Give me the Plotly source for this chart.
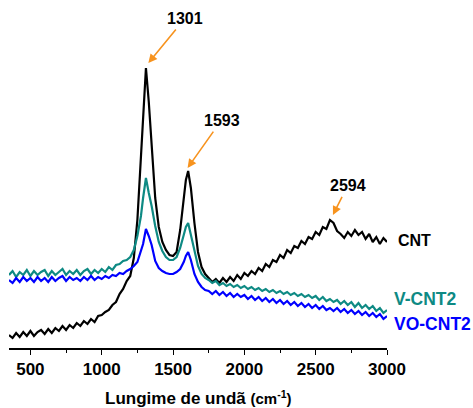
import plotly.graph_objects as go

# Raman shift sample positions (cm^-1)
X = list(range(350, 1276, 25)) + [1290, 1310, 1330, 1350, 1375, 1400, 1425, 1450, 1475,
                                  1500, 1525, 1550, 1575, 1590, 1606, 1625] + list(range(1650, 3001, 25))

CNT = ([13, 10, 15, 11, 16, 12, 17, 12, 16, 18,
        14, 19, 15, 20, 17, 22, 18, 23, 20, 25, 22, 27, 24, 29, 26, 32,
        33, 36, 38, 43, 46, 54, 59, 67, 72, 90, 128, 190] +
       [240, 280, 246, 200, 150, 121, 106, 98, 93, 92, 96, 118, 150, 168, 177, 160] +
       [125, 96, 81, 74, 70, 66, 69, 65, 70, 66, 71, 67, 73, 69,
        75, 72, 77, 74, 80, 77, 84, 81, 88, 86, 93, 90, 98, 95, 102, 100, 107, 104, 111, 109, 116, 113, 121, 119,
        128,
        125, 117, 114, 110, 116, 112, 118, 113, 116, 109, 114, 106, 111, 104, 110, 106])

V_CNT2 = ([73, 77, 71, 76, 73, 78, 72, 77, 73, 76,
           78, 72, 77, 73, 76, 79, 73, 77, 74, 78, 73, 77, 79, 74, 78, 75,
           79, 76, 81, 78, 83, 84, 87, 88, 91, 98, 112, 132] +
          [150, 170, 155, 142, 122, 106, 97, 91, 88, 88, 91, 100, 113, 121, 125, 113] +
          [96, 82, 74, 70, 68, 65, 67, 63, 65, 62, 64, 61, 63, 60,
           62, 59, 61, 58, 60, 57, 59, 56, 58, 55, 57, 54, 56, 53, 55, 52, 54, 51, 53, 50, 52, 48, 51, 47,
           49,
           46, 48, 44, 47, 43, 46, 41, 45, 40, 43, 39, 42, 37, 40, 35, 38])

VO_CNT2 = ([68, 65, 70, 66, 71, 67, 70, 66, 71, 67,
            70, 66, 71, 67, 70, 72, 67, 71, 68, 70, 67, 71, 68, 72, 68, 71,
            69, 72, 70, 73, 72, 75, 74, 77, 79, 82, 86, 96] +
           [104, 119, 112, 103, 87, 80, 77, 75, 74, 74, 76, 79, 86, 92, 96, 88] +
           [74, 66, 61, 58, 57, 54, 57, 53, 56, 52, 55, 51, 54, 51,
            53, 49, 52, 48, 51, 47, 50, 46, 49, 45, 48, 44, 47, 43, 46, 42, 45, 41, 44, 40, 43, 39, 42, 38,
            40,
            37, 40, 36, 39, 35, 38, 34, 37, 33, 36, 32, 35, 31, 34, 29, 32])

SERIES_NAMES = ["CNT", "V-CNT2", "VO-CNT2"]
COLORS = ["#000000", "#0E8A84", "#0000FF"]
TICKS = [500, 1000, 1500, 2000, 2500, 3000]

PEAK_LABELS = ["1301", "1593", "2594"]
PEAK_X = [1327, 1602, 2621]
PEAK_Y = [285, 180, 133]
PEAK_AX = [37, 34, 15]
PEAK_AY = [-45, -48, -30]

FONT = "Liberation Sans, Arial, sans-serif"
ORANGE = "#F7931E"

fig = go.Figure()
for name, ys, col in zip(SERIES_NAMES, [CNT, V_CNT2, VO_CNT2], COLORS):
    fig.add_trace(go.Scatter(x=X, y=ys, mode="lines", name=name,
                             line=dict(color=col, width=2.2)))

for lab, px, py, ax, ay in zip(PEAK_LABELS, PEAK_X, PEAK_Y, PEAK_AX, PEAK_AY):
    fig.add_annotation(x=px, y=py, xref="x", yref="y", text=lab, showarrow=True,
                       ax=ax, ay=ay, arrowhead=2, arrowsize=1.1, arrowwidth=1.6,
                       arrowcolor=ORANGE, standoff=0, startstandoff=2,
                       font=dict(family=FONT, size=16, color="black", weight="bold"))

# series labels on the right (paper x so they are not hidden outside the x range)
fig.add_annotation(x=1.0238, y=108, xref="paper", yref="y", text="CNT", showarrow=False,
                   xanchor="left", yanchor="middle",
                   font=dict(family=FONT, size=16, color="black", weight="bold"))
fig.add_annotation(x=1.0132, y=49, xref="paper", yref="y", text="V-CNT2", showarrow=False,
                   xanchor="left", yanchor="middle",
                   font=dict(family=FONT, size=17.5, color=COLORS[1], weight="bold"))
fig.add_annotation(x=1.0132, y=24, xref="paper", yref="y", text="VO-CNT2", showarrow=False,
                   xanchor="left", yanchor="middle",
                   font=dict(family=FONT, size=17.5, color=COLORS[2], weight="bold"))

# axis title
fig.add_annotation(x=0.5, y=-0.1437, xref="paper", yref="paper",
                   text='Lungime de undã <span style="font-size:15px">(cm<sup>-1</sup>)</span>',
                   showarrow=False, xanchor="center", yanchor="middle",
                   font=dict(family=FONT, size=17, color="black", weight="bold"))

fig.update_layout(
    width=473, height=408,
    margin=dict(l=9, r=86, t=0, b=60),
    paper_bgcolor="white", plot_bgcolor="white",
    showlegend=False,
    xaxis=dict(range=[350, 3000], tickvals=TICKS, ticks="outside", ticklen=5, tickwidth=1.3,
               tickcolor="black", showline=True, linecolor="black", linewidth=1.5,
               showgrid=False, zeroline=False,
               tickfont=dict(family=FONT, size=17, color="black", weight="bold"),
               minor=dict(dtick=250, tick0=0, ticks="outside", ticklen=3, tickcolor="black", showgrid=False)),
    yaxis=dict(range=[0, 348], visible=False, showgrid=False, zeroline=False),
)

fig.write_html("out.html")
